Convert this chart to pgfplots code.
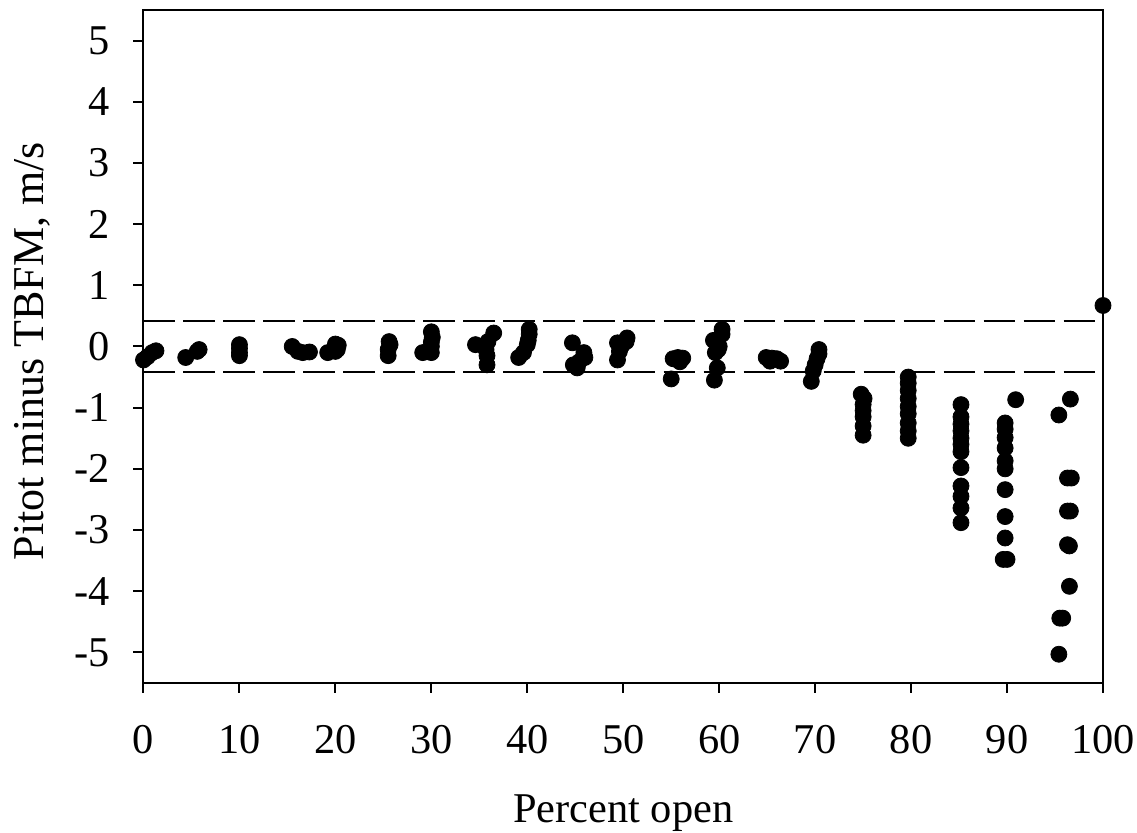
\documentclass[border=0pt]{standalone}
\usepackage{fontspec}
\setmainfont{Liberation Serif}
\usepackage{pgfplots}
\pgfplotsset{compat=1.18}
\begin{document}
\fontsize{21.2pt}{25pt}\selectfont
\begin{tikzpicture}
\path[use as bounding box] (-71.75pt,-75pt) rectangle (496.75pt,341.5pt);
\begin{axis}[
  at={(0,0)}, anchor=south west,
  scale only axis, width=479.75pt, height=336.5pt,
  xmin=0, xmax=100, ymin=-5.5, ymax=5.5,
  xtick={0,10,...,100}, ytick={-5,-4,...,5},
  tick align=outside, tick pos=left,
  major tick length=5pt,
  axis line style={line width=1pt},
  every tick/.style={line width=1pt, black},
  /pgf/number format/assume math mode=true,
  ticklabel style={font=\fontsize{21.2pt}{25pt}\selectfont, inner sep=0pt},
  xticklabel style={anchor=north, yshift=-16pt},
  yticklabel style={anchor=east, xshift=-11.75pt},
  xlabel={Percent open},
  ylabel={Pitot minus TBFM, m/s},
  xlabel style={at={(axis description cs:0.5,-0.208)}, anchor=base, inner sep=0pt, font=\fontsize{21.2pt}{25pt}\selectfont},
  ylabel style={at={(axis description cs:-0.1047,0.493)}, anchor=base, inner sep=0pt, font=\fontsize{22pt}{26pt}\selectfont},
  clip=false,
]
\addplot[black, line width=0.9pt, dash pattern=on 15.8pt off 4.2pt] coordinates {(0,0.42) (100,0.42)};
\addplot[black, line width=0.9pt, dash pattern=on 15.8pt off 4.2pt] coordinates {(0,-0.42) (100,-0.42)};
\addplot[only marks, mark=*, mark size=4pt, black, mark options={fill=black}] table {
x y
0 -0.22
0.4 -0.17
0.9 -0.1
1.3 -0.07
4.4 -0.18
5.6 -0.08
5.8 -0.05
10 0.03
10 -0.03
10 -0.1
10 -0.15
15.5 0.0
16.1 -0.08
16.6 -0.1
17.3 -0.09
19.2 -0.1
20 0.04
20.3 0.02
20.2 -0.05
20.0 -0.08
25.6 0.08
25.7 0.03
25.5 -0.05
25.5 -0.15
29.1 -0.1
30 0.24
30.1 0.15
30 0.07
30 0.0
30 -0.1
34.6 0.03
36.5 0.22
35.9 0.08
35.7 -0.05
35.8 -0.15
35.8 -0.3
39.1 -0.18
39.6 -0.1
40 0.03
40.1 0.1
40.2 0.2
40.2 0.28
44.7 0.06
45.9 -0.1
46.0 -0.18
45.4 -0.25
44.8 -0.3
45.2 -0.35
50.4 0.14
50.3 0.08
49.4 0.06
49.8 0.0
49.6 -0.08
49.4 -0.22
55.2 -0.2
55.7 -0.18
56.2 -0.19
55.9 -0.25
55.0 -0.53
59.5 -0.55
59.8 -0.35
59.6 -0.1
59.4 0.1
60.0 0.0
60.3 0.2
60.3 0.28
59.9 -0.05
64.9 -0.18
65.5 -0.19
66.0 -0.2
66.4 -0.24
65.3 -0.24
70.4 -0.05
70.4 -0.12
70.2 -0.2
70.0 -0.3
69.8 -0.4
69.6 -0.57
74.8 -0.78
75.1 -0.85
75 -0.95
75 -1.05
75 -1.15
75 -1.3
75 -1.45
79.7 -0.5
79.7 -0.6
79.7 -0.72
79.7 -0.85
79.7 -0.98
79.7 -1.1
79.7 -1.25
79.7 -1.38
79.7 -1.5
85.2 -0.95
85.2 -1.15
85.2 -1.27
85.2 -1.38
85.2 -1.5
85.2 -1.6
85.2 -1.72
85.2 -1.98
85.2 -2.28
85.2 -2.45
85.2 -2.64
85.2 -2.88
89.8 -1.25
89.8 -1.35
89.8 -1.49
89.8 -1.66
89.8 -1.87
89.8 -2.0
89.8 -2.34
89.8 -2.78
89.8 -3.13
89.6 -3.48
90.0 -3.48
90.9 -0.87
96.6 -0.86
95.4 -1.12
96.3 -2.15
96.7 -2.15
96.3 -2.69
96.6 -2.69
96.3 -3.24
96.5 -3.26
96.5 -3.92
95.5 -4.44
95.8 -4.44
95.4 -5.03
100 0.67
};
\end{axis}
\end{tikzpicture}
\end{document}
